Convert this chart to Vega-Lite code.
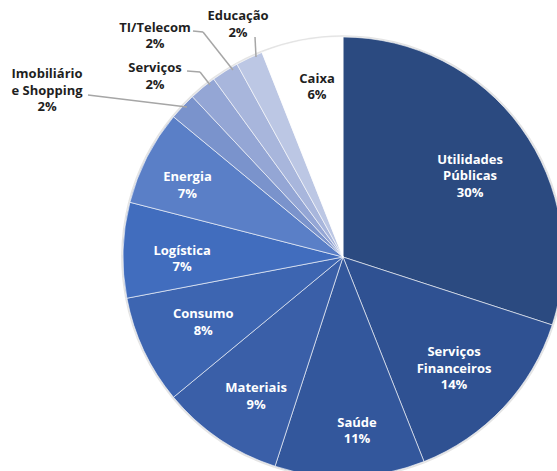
{
  "$schema": "https://vega.github.io/schema/vega-lite/v6.json",
  "width": 428,
  "height": 428,
  "autosize": {"type": "none"},
  "padding": {"left": 129, "top": 43, "right": 0, "bottom": 0},
  "background": "white",
  "config": {"view": {"stroke": null}, "text": {"font": "Open Sans", "fontWeight": "bold", "fontSize": 13, "lineBreak": "\n", "lineHeight": 16.5, "align": "center", "baseline": "middle"}},
  "data": {"values": [
    {"ordem": 1, "setor": "Utilidades Públicas", "nome": "Utilidades\nPúblicas", "pct": 30},
    {"ordem": 2, "setor": "Serviços Financeiros", "nome": "Serviços\nFinanceiros", "pct": 14},
    {"ordem": 3, "setor": "Saúde", "nome": "Saúde", "pct": 11},
    {"ordem": 4, "setor": "Materiais", "nome": "Materiais", "pct": 9},
    {"ordem": 5, "setor": "Consumo", "nome": "Consumo", "pct": 8},
    {"ordem": 6, "setor": "Logística", "nome": "Logística", "pct": 7},
    {"ordem": 7, "setor": "Energia", "nome": "Energia", "pct": 7},
    {"ordem": 8, "setor": "Imobiliário e Shopping", "nome": "Imobiliário\ne Shopping", "pct": 2},
    {"ordem": 9, "setor": "Serviços", "nome": "Serviços", "pct": 2},
    {"ordem": 10, "setor": "TI/Telecom", "nome": "TI/Telecom", "pct": 2},
    {"ordem": 11, "setor": "Educação", "nome": "Educação", "pct": 2},
    {"ordem": 12, "setor": "Caixa", "nome": "Caixa", "pct": 6}
  ]},
  "transform": [
    {"window": [{"op": "sum", "field": "pct", "as": "acum"}], "sort": [{"field": "ordem"}], "frame": [null, 0]},
    {"joinaggregate": [{"op": "sum", "field": "pct", "as": "total"}]},
    {"calculate": "(datum.acum - datum.pct / 2) / datum.total * 2 * PI", "as": "meio"},
    {"calculate": "datum.nome + '\\n' + datum.pct + '%'", "as": "rotulo"},
    {"calculate": "214 + 221 * sin(datum.meio)", "as": "bx"},
    {"calculate": "214 - 221 * cos(datum.meio)", "as": "by"},
    {"calculate": "214 + 160 * sin(datum.meio)", "as": "ix"},
    {"calculate": "214 - 160 * cos(datum.meio)", "as": "iy"},
    {"calculate": "214 + 240 * sin(datum.meio)", "as": "ox"},
    {"calculate": "214 - 240 * cos(datum.meio)", "as": "oy"}
  ],
  "layer": [
    {
      "mark": {"type": "arc", "radius": 221.8, "color": "#E4E4E4"},
      "encoding": {
        "theta": {"field": "pct", "type": "quantitative", "stack": true},
        "order": {"field": "ordem", "type": "quantitative"}
      }
    },
    {
      "mark": {"type": "arc", "radius": 220, "stroke": "white", "strokeWidth": 0.6},
      "encoding": {
        "theta": {"field": "pct", "type": "quantitative", "stack": true},
        "order": {"field": "ordem", "type": "quantitative"},
        "color": {"field": "setor", "type": "nominal", "legend": null, "scale": {
          "domain": ["Utilidades Públicas", "Serviços Financeiros", "Saúde", "Materiais", "Consumo", "Logística", "Energia", "Imobiliário e Shopping", "Serviços", "TI/Telecom", "Educação", "Caixa"],
          "range": ["#2B4A80", "#2F5192", "#33579C", "#3A5FA8", "#3D65B1", "#416DBE", "#5A7FC7", "#7A93CC", "#94A6D5", "#A8B6DC", "#BCC7E4", "#FFFFFF"]}}
      }
    },
    {
      "transform": [{"filter": {"field": "setor", "equal": "Imobiliário e Shopping"}}],
      "mark": {"type": "rule", "color": "#A6A6A6", "strokeWidth": 1.5, "xOffset": 5, "yOffset": 1.3, "x2Offset": -93.9, "y2Offset": -10.7},
      "encoding": {"x": {"field": "bx", "type": "quantitative", "scale": null}, "y": {"field": "by", "type": "quantitative", "scale": null}, "x2": {"field": "bx"}, "y2": {"field": "by"}}
    },
    {
      "transform": [{"filter": {"field": "setor", "equal": "Serviços"}}],
      "mark": {"type": "rule", "color": "#A6A6A6", "strokeWidth": 1.5, "xOffset": 8, "yOffset": -1.7, "x2Offset": -2.1, "y2Offset": -14.7},
      "encoding": {"x": {"field": "bx", "type": "quantitative", "scale": null}, "y": {"field": "by", "type": "quantitative", "scale": null}, "x2": {"field": "bx"}, "y2": {"field": "by"}}
    },
    {
      "transform": [{"filter": {"field": "setor", "equal": "Serviços"}}],
      "mark": {"type": "rule", "color": "#A6A6A6", "strokeWidth": 1.5, "xOffset": -2.1, "yOffset": -14.7, "x2Offset": -15.1, "y2Offset": -15.7},
      "encoding": {"x": {"field": "bx", "type": "quantitative", "scale": null}, "y": {"field": "by", "type": "quantitative", "scale": null}, "x2": {"field": "bx"}, "y2": {"field": "by"}}
    },
    {
      "transform": [{"filter": {"field": "setor", "equal": "TI/Telecom"}}],
      "mark": {"type": "rule", "color": "#A6A6A6", "strokeWidth": 1.5, "xOffset": 8.4, "yOffset": -0.4, "x2Offset": -21.6, "y2Offset": -38.4},
      "encoding": {"x": {"field": "bx", "type": "quantitative", "scale": null}, "y": {"field": "by", "type": "quantitative", "scale": null}, "x2": {"field": "bx"}, "y2": {"field": "by"}}
    },
    {
      "transform": [{"filter": {"field": "setor", "equal": "TI/Telecom"}}],
      "mark": {"type": "rule", "color": "#A6A6A6", "strokeWidth": 1.5, "xOffset": -21.6, "yOffset": -38.4, "x2Offset": -31.6, "y2Offset": -39.4},
      "encoding": {"x": {"field": "bx", "type": "quantitative", "scale": null}, "y": {"field": "by", "type": "quantitative", "scale": null}, "x2": {"field": "bx"}, "y2": {"field": "by"}}
    },
    {
      "transform": [{"filter": {"field": "setor", "equal": "Educação"}}],
      "mark": {"type": "rule", "color": "#A6A6A6", "strokeWidth": 1.5, "xOffset": 7.1, "yOffset": 0, "x2Offset": 6.1, "y2Offset": -20},
      "encoding": {"x": {"field": "bx", "type": "quantitative", "scale": null}, "y": {"field": "by", "type": "quantitative", "scale": null}, "x2": {"field": "bx"}, "y2": {"field": "by"}}
    },
    {
      "transform": [{"filter": {"field": "setor", "equal": "Utilidades Públicas"}}],
      "mark": {"type": "text", "color": "white", "dx": -2.4, "dy": -3},
      "encoding": {"x": {"field": "ix", "type": "quantitative", "scale": null}, "y": {"field": "iy", "type": "quantitative", "scale": null}, "text": {"field": "rotulo"}}
    },
    {
      "transform": [{"filter": {"field": "setor", "equal": "Serviços Financeiros"}}],
      "mark": {"type": "text", "color": "white", "dx": -5.6, "dy": -14.5},
      "encoding": {"x": {"field": "ix", "type": "quantitative", "scale": null}, "y": {"field": "iy", "type": "quantitative", "scale": null}, "text": {"field": "rotulo"}}
    },
    {
      "transform": [{"filter": {"field": "setor", "equal": "Saúde"}}],
      "mark": {"type": "text", "color": "white", "dx": 9, "dy": 6},
      "encoding": {"x": {"field": "ix", "type": "quantitative", "scale": null}, "y": {"field": "iy", "type": "quantitative", "scale": null}, "text": {"field": "rotulo"}}
    },
    {
      "transform": [{"filter": {"field": "setor", "equal": "Materiais"}}],
      "mark": {"type": "text", "color": "white", "dx": 3, "dy": -1},
      "encoding": {"x": {"field": "ix", "type": "quantitative", "scale": null}, "y": {"field": "iy", "type": "quantitative", "scale": null}, "text": {"field": "rotulo"}}
    },
    {
      "transform": [{"filter": {"field": "setor", "equal": "Consumo"}}],
      "mark": {"type": "text", "color": "white", "dx": 5, "dy": -11},
      "encoding": {"x": {"field": "ix", "type": "quantitative", "scale": null}, "y": {"field": "iy", "type": "quantitative", "scale": null}, "text": {"field": "rotulo"}}
    },
    {
      "transform": [{"filter": {"field": "setor", "equal": "Logística"}}],
      "mark": {"type": "text", "color": "white", "dx": -1, "dy": -1},
      "encoding": {"x": {"field": "ix", "type": "quantitative", "scale": null}, "y": {"field": "iy", "type": "quantitative", "scale": null}, "text": {"field": "rotulo"}}
    },
    {
      "transform": [{"filter": {"field": "setor", "equal": "Energia"}}],
      "mark": {"type": "text", "color": "white", "dx": -13, "dy": -7},
      "encoding": {"x": {"field": "ix", "type": "quantitative", "scale": null}, "y": {"field": "iy", "type": "quantitative", "scale": null}, "text": {"field": "rotulo"}}
    },
    {
      "transform": [{"filter": {"field": "setor", "equal": "Caixa"}}],
      "mark": {"type": "text", "color": "#1F1F1F", "dx": 4, "dy": -21},
      "encoding": {"x": {"field": "ix", "type": "quantitative", "scale": null}, "y": {"field": "iy", "type": "quantitative", "scale": null}, "text": {"field": "rotulo"}}
    },
    {
      "transform": [{"filter": {"field": "setor", "equal": "Imobiliário e Shopping"}}],
      "mark": {"type": "text", "color": "#1F1F1F", "dx": -121, "dy": -18.7},
      "encoding": {"x": {"field": "ox", "type": "quantitative", "scale": null}, "y": {"field": "oy", "type": "quantitative", "scale": null}, "text": {"field": "rotulo"}}
    },
    {
      "transform": [{"filter": {"field": "setor", "equal": "Serviços"}}],
      "mark": {"type": "text", "color": "#1F1F1F", "dx": -35, "dy": -4},
      "encoding": {"x": {"field": "ox", "type": "quantitative", "scale": null}, "y": {"field": "oy", "type": "quantitative", "scale": null}, "text": {"field": "rotulo"}}
    },
    {
      "transform": [{"filter": {"field": "setor", "equal": "TI/Telecom"}}],
      "mark": {"type": "text", "color": "#1F1F1F", "dx": -59.4, "dy": -26.4},
      "encoding": {"x": {"field": "ox", "type": "quantitative", "scale": null}, "y": {"field": "oy", "type": "quantitative", "scale": null}, "text": {"field": "rotulo"}}
    },
    {
      "transform": [{"filter": {"field": "setor", "equal": "Educação"}}],
      "mark": {"type": "text", "color": "#1F1F1F", "dx": -2.8, "dy": -23.8},
      "encoding": {"x": {"field": "ox", "type": "quantitative", "scale": null}, "y": {"field": "oy", "type": "quantitative", "scale": null}, "text": {"field": "rotulo"}}
    }
  ]
}
